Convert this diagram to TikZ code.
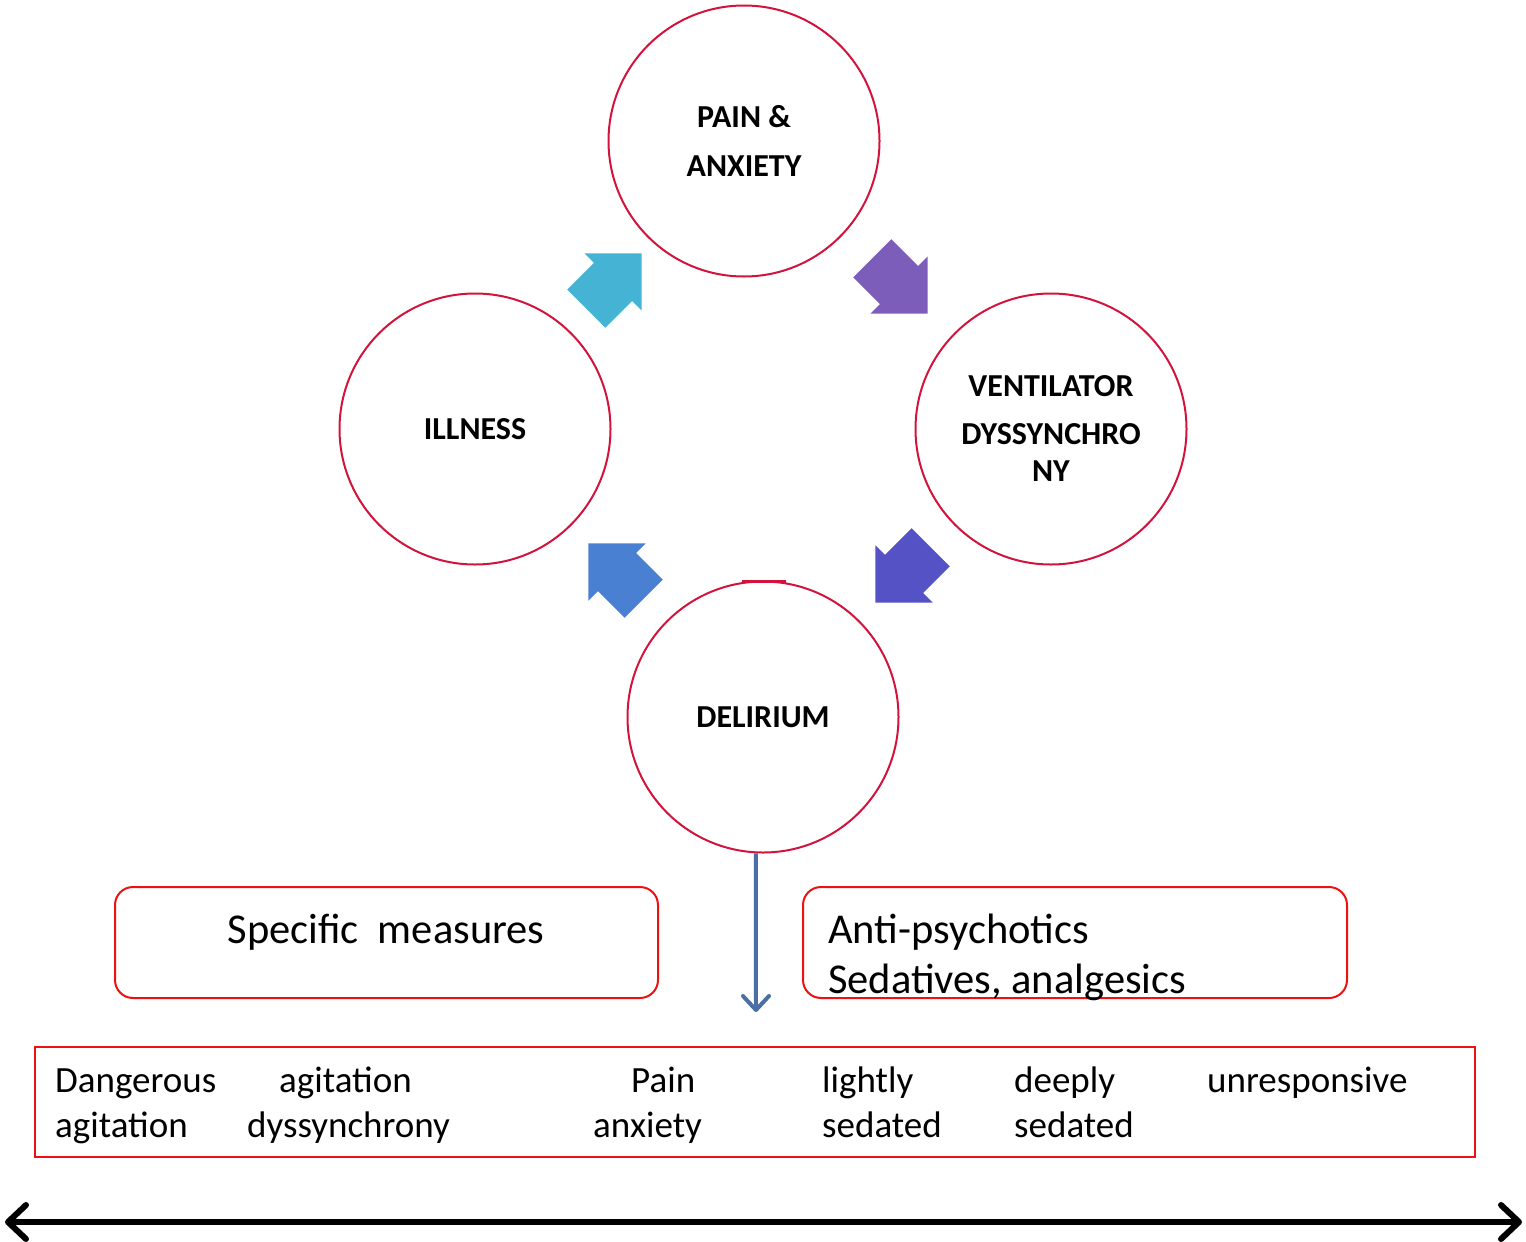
\documentclass[tikz,border=0pt]{standalone}
\usepackage{fontspec}
\setmainfont{Carlito}
\usetikzlibrary{arrows.meta}
\definecolor{ringred}{HTML}{D2143C}
\definecolor{boxred}{HTML}{EE1111}
\definecolor{cyanarrow}{HTML}{45B3D4}
\definecolor{purplearrow}{HTML}{7D5DBA}
\definecolor{indigoarrow}{HTML}{5452C4}
\definecolor{bluearrow}{HTML}{4A80D2}
\definecolor{steel}{HTML}{4A6FA5}
\tikzset{
  ring/.style={circle, draw=ringred, line width=2pt, minimum size=271pt, inner sep=0pt,
    font=\fontsize{32}{37}\selectfont\bfseries, align=center},
  redbox/.style={draw=boxred, line width=2pt, inner sep=0pt},
  boxtext/.style={font=\fontsize{42.5}{51}\selectfont, inner sep=0pt},
  scaletext/.style={font=\fontsize{37}{45}\selectfont, anchor=base west, inner sep=0pt},
}
% block arrow of the cycle: centre, angle, colour
\newcommand{\cyclearrow}[3]{%
  \fill[#3, shift={#1}, rotate=#2, scale=1.35] (-28,-20) -- (0,-20) -- (0,-30) -- (30,0) -- (0,30) -- (0,20) -- (-28,20) -- cycle;}
\begin{document}
\begin{tikzpicture}[x=1pt,y=-1pt]
  \useasboundingbox (0,0) rectangle (1526,1242);
  % circles
  \node[ring] (pain) at (744,141) {PAIN \&\\[12pt]ANXIETY};
  \node[ring] (illness) at (475,429) {ILLNESS};
  \node[ring] (vent) at (1051,429) {VENTILATOR\\[11pt]DYSSYNCHRO\\NY};
  \node[ring] (delir) at (763,717) {DELIRIUM};
  \draw[ringred, line width=3pt] (742,581) -- (786,581);
  % cycle arrows
  \cyclearrow{(613,282)}{45}{cyanarrow}
  \cyclearrow{(899,285)}{-45}{purplearrow}
  \cyclearrow{(904,574)}{-135}{indigoarrow}
  \cyclearrow{(617,572)}{135}{bluearrow}
  % drop arrow
  \coordinate (drop) at (756,1012);
  \draw[steel, line width=4pt, -{Straight Barb[length=14pt, width=26pt, round]}] (delir.-93) -- (drop);
  % treatment boxes
  \node[redbox, rounded corners=18pt, minimum width=543pt, minimum height=111pt] (specbox) at (386.5,942.5) {};
  \node[boxtext, anchor=base] (spec) at (386,943) {Specific\ \ measures};
  \node[redbox, rounded corners=18pt, minimum width=544pt, minimum height=111pt] (drugbox) at (1075,942.5) {};
  \node[boxtext, anchor=base west] (anti) at (828,943) {Anti-psychotics};
  \node[boxtext, anchor=base west] (seda) at (828,993) {Sedatives, analgesics};
  % scale
  \node[redbox, minimum width=1440pt, minimum height=110pt] (scalebox) at (755,1102) {};
  \foreach \x/\y/\word [count=\i] in {55/1092/Dangerous, 55/1137/agitation,
      279/1092/agitation, 247/1137/dyssynchrony, 631/1092/Pain, 593/1137/anxiety,
      822/1092/lightly, 822/1137/sedated, 1014/1092/deeply, 1014/1137/sedated,
      1207/1092/unresponsive}
    \node[scaletext] (w\i) at (\x,\y) {\word};
  % axis
  \coordinate (lft) at (5,1222);
  \coordinate (rgt) at (1522,1222);
  \draw[line width=6pt, {Straight Barb[length=18pt, width=34pt, round]}-{Straight Barb[length=18pt, width=34pt, round]}] (lft) -- (rgt);
\end{tikzpicture}
\end{document}
